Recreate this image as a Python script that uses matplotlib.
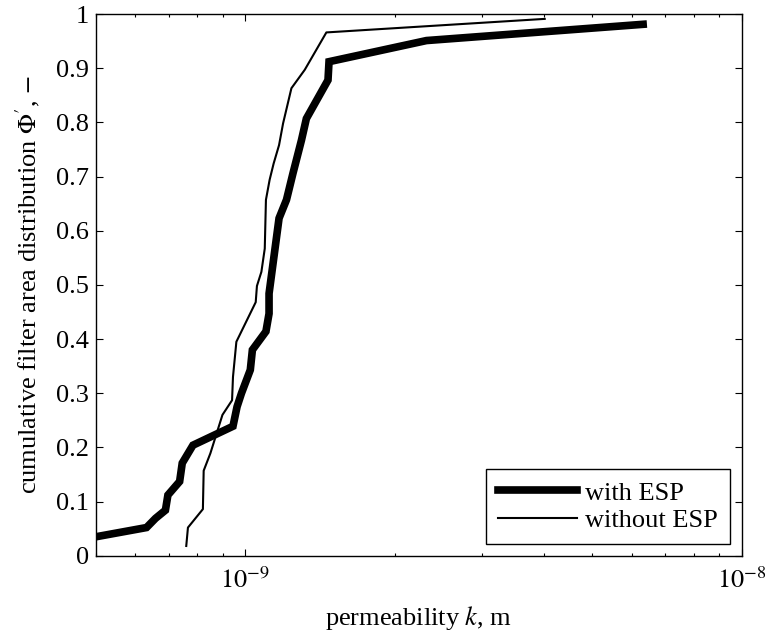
import matplotlib
matplotlib.use('Agg')
import matplotlib.pyplot as plt
import numpy as np

# with ESP (thick line)
k_with = np.array([5.0e-10, 6.32e-10, 6.59e-10, 6.9e-10, 6.98e-10, 7.37e-10, 7.46e-10,
                   7.84e-10, 9.44e-10, 9.62e-10, 9.82e-10, 1.023e-9, 1.033e-9, 1.10e-9,
                   1.116e-9, 1.116e-9, 1.169e-9, 1.21e-9, 1.247e-9, 1.297e-9, 1.327e-9,
                   1.467e-9, 1.474e-9, 2.317e-9, 6.33e-9])
phi_with = np.array([0.035, 0.052, 0.069, 0.084, 0.112, 0.137, 0.171,
                     0.204, 0.239, 0.275, 0.30, 0.343, 0.38, 0.414,
                     0.447, 0.484, 0.623, 0.657, 0.706, 0.767, 0.807,
                     0.878, 0.912, 0.951, 0.981])

# without ESP (thin line)
k_without = np.array([7.6e-10, 7.66e-10, 8.21e-10, 8.24e-10, 8.50e-10, 8.99e-10, 9.40e-10,
                      9.44e-10, 9.59e-10, 1.049e-9, 1.055e-9, 1.077e-9, 1.094e-9, 1.10e-9,
                      1.119e-9, 1.14e-9, 1.169e-9, 1.191e-9, 1.238e-9, 1.317e-9, 1.456e-9,
                      4.01e-9])
phi_without = np.array([0.018, 0.052, 0.086, 0.157, 0.189, 0.26, 0.287,
                        0.33, 0.395, 0.468, 0.498, 0.524, 0.567, 0.657,
                        0.694, 0.724, 0.758, 0.798, 0.863, 0.897, 0.966,
                        0.991])

plt.rcParams['font.family'] = 'Liberation Serif'
plt.rcParams['mathtext.fontset'] = 'stix'
plt.rcParams['font.size'] = 19

fig = plt.figure(figsize=(7.65, 6.31), dpi=100)
ax = fig.add_axes([0.1255, 0.1193, 0.9695 - 0.1255, 0.9778 - 0.1193])

ax.plot(k_with, phi_with, 'k-', lw=5.5, label='with ESP', solid_joinstyle='miter')
ax.plot(k_without, phi_without, 'k-', lw=1.5, label='without ESP')

ax.set_xscale('log')
ax.set_xlim(5e-10, 1e-8)
ax.set_ylim(0, 1)
ax.set_yticks(np.arange(0, 1.01, 0.1))
ax.set_yticklabels(['0', '0.1', '0.2', '0.3', '0.4', '0.5', '0.6', '0.7', '0.8', '0.9', '1'])
ax.set_xticks([1e-9, 1e-8])
ax.set_xticklabels([r'$10^{-9}$', r'$10^{-8}$'])

ax.tick_params(which='both', direction='in', top=True, right=True)
ax.tick_params(which='major', length=5, width=0.8)
ax.tick_params(which='minor', length=2.5, width=0.8)
ax.tick_params(axis='x', which='major', pad=8)
ax.tick_params(axis='y', which='major', pad=5)
ax.tick_params(axis='y', which='minor', left=False, right=False)
for s in ax.spines.values():
    s.set_linewidth(1.0)

ax.set_xlabel(r'permeability $k$, m', labelpad=8)
ax.set_ylabel(r"cumulative filter area distribution $\Phi^{\prime}$, $-$", labelpad=10)

leg = ax.legend(loc='lower right', fancybox=False, framealpha=1, edgecolor='k',
                handlelength=3.0, borderaxespad=0.45, borderpad=0.45, labelspacing=0.15,
                handletextpad=0.3)
leg.get_frame().set_linewidth(1.0)

fig.savefig('out.png', dpi=100)
